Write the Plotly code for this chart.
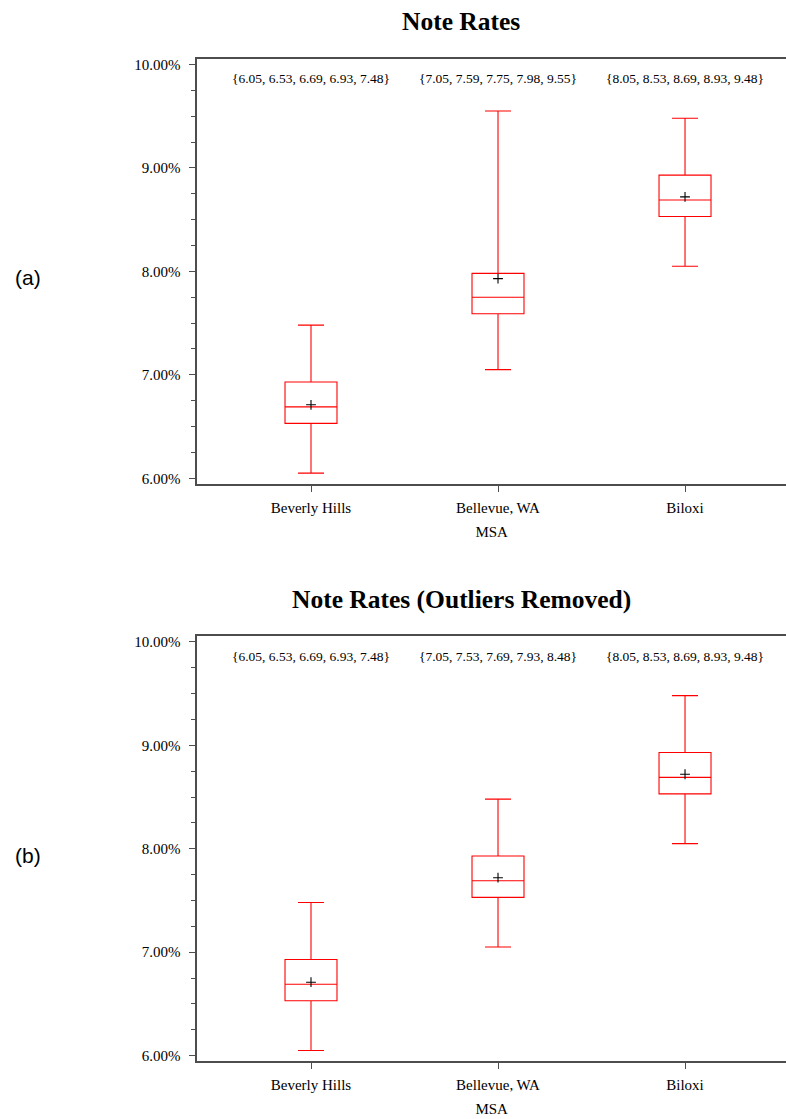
import plotly.graph_objects as go

# Metropolitan statistical areas
msa = ["Beverly Hills", "Bellevue, WA", "Biloxi"]

# Panel (a): all loans
a_min = [6.05, 7.05, 8.05]
a_q1 = [6.53, 7.59, 8.53]
a_median = [6.69, 7.75, 8.69]
a_q3 = [6.93, 7.98, 8.93]
a_max = [7.48, 9.55, 9.48]
a_mean = [6.71, 7.93, 8.72]

# Panel (b): outliers removed
b_min = [6.05, 7.05, 8.05]
b_q1 = [6.53, 7.53, 8.53]
b_median = [6.69, 7.69, 8.69]
b_q3 = [6.93, 7.93, 8.93]
b_max = [7.48, 8.48, 9.48]
b_mean = [6.71, 7.72, 8.72]

y_ticks = [6, 7, 8, 9, 10]

W, H = 786, 1119
SERIF = "Liberation Serif"
AXIS_COLOR = "#4d4d4d"
RED = "#ff0000"


def py(px):
    """Convert a pixel row (from the top) to paper coordinates."""
    return 1 - px / H


panels = [
    dict(title="Note Rates", tag="(a)", off=0,
         mn=a_min, q1=a_q1, med=a_median, q3=a_q3, mx=a_max, mean=a_mean),
    dict(title="Note Rates (Outliers Removed)", tag="(b)", off=580,
         mn=b_min, q1=b_q1, med=b_median, q3=b_q3, mx=b_max, mean=b_mean),
]

fig = go.Figure()
annotations = []
layout_axes = {}

for i, p in enumerate(panels):
    n = "" if i == 0 else str(i + 1)
    xref, yref = "x" + n, "y" + n
    off = p["off"]

    fig.add_trace(go.Box(
        x=msa, q1=p["q1"], median=p["med"], q3=p["q3"],
        lowerfence=p["mn"], upperfence=p["mx"],
        boxpoints=False, width=0.278, whiskerwidth=0.5,
        line=dict(color=RED, width=1.1), fillcolor="rgba(0,0,0,0)",
        showlegend=False, xaxis=xref, yaxis=yref,
    ))
    fig.add_trace(go.Scatter(
        x=msa, y=p["mean"], mode="markers",
        marker=dict(symbol="cross-thin", size=7,
                    line=dict(color="black", width=1.1)),
        showlegend=False, xaxis=xref, yaxis=yref,
    ))

    layout_axes["xaxis" + n] = dict(
        domain=[197.3 / W, 1.0], range=[-0.608, 2.54], anchor=yref,
        showline=True, linecolor=AXIS_COLOR, linewidth=1.5, mirror=True,
        ticks="outside", ticklen=6, tickcolor=AXIS_COLOR, tickwidth=1,
        ticklabelstandoff=3, showgrid=False, zeroline=False,
        tickfont=dict(family=SERIF, size=15, color="black"),
        title=dict(text="MSA", standoff=12,
                   font=dict(family=SERIF, size=15, color="black")),
    )
    layout_axes["yaxis" + n] = dict(
        domain=[py(484 + off), py(57 + off)], range=[5.946, 10.055],
        anchor=xref, showline=True, linecolor=AXIS_COLOR, linewidth=1.5,
        ticks="outside", ticklen=7, tickcolor=AXIS_COLOR, tickwidth=1,
        tickvals=y_ticks, ticktext=[f"{v:.2f}%" for v in y_ticks],
        minor=dict(dtick=0.25, ticks="outside", ticklen=5,
                   tickcolor=AXIS_COLOR, tickwidth=1),
        ticklabelstandoff=5, showgrid=False, zeroline=False,
        tickfont=dict(family=SERIF, size=15, color="black"),
    )

    # panel title
    annotations.append(dict(
        text=f"<b>{p['title']}</b>", x=461 / W, y=py(20 + off),
        xref="paper", yref="paper", xanchor="center", yanchor="middle",
        showarrow=False, font=dict(family=SERIF, size=25.5, color="black"),
    ))
    # five-number summary above each box
    for j, cat in enumerate(msa):
        vals = [p["mn"][j], p["q1"][j], p["med"][j], p["q3"][j], p["mx"][j]]
        annotations.append(dict(
            text="{" + ", ".join(f"{v:.2f}" for v in vals) + "}",
            x=cat, y=py(77 + off), xref=xref, yref="paper",
            xanchor="center", yanchor="middle", showarrow=False,
            font=dict(family=SERIF, size=13.5, color="black"),
        ))
    # panel tag
    annotations.append(dict(
        text=p["tag"], x=28 / W, y=py(277 + off), xref="paper", yref="paper",
        xanchor="center", yanchor="middle", showarrow=False,
        font=dict(family="Liberation Sans", size=21, color="black"),
    ))

fig.update_layout(
    width=W, height=H, margin=dict(l=0, r=0, t=0, b=0),
    paper_bgcolor="white", plot_bgcolor="white",
    annotations=annotations, **layout_axes,
)

fig.write_html("out.html")
